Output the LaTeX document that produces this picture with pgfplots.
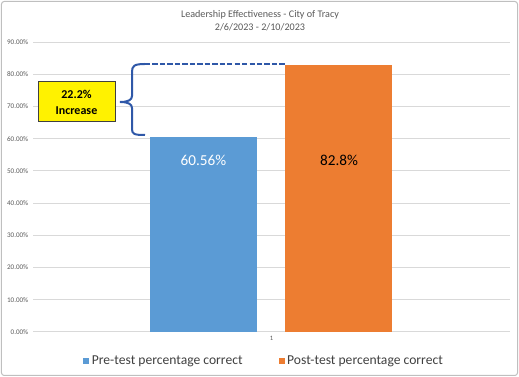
\documentclass[border=0pt]{standalone}
\usepackage{pgfplots}
\pgfplotsset{compat=1.18}
\usepackage{fontspec}
\setmainfont{Carlito}
\definecolor{barblue}{RGB}{91,155,213}
\definecolor{barorange}{RGB}{237,125,49}
\definecolor{bracecol}{RGB}{47,88,168}
\definecolor{txtgray}{RGB}{89,89,89}
\definecolor{legtxt}{RGB}{64,64,64}
\definecolor{gridgray}{RGB}{217,217,217}
\definecolor{framegray}{RGB}{191,191,191}
\begin{document}
\begin{tikzpicture}[x=0.75pt,y=0.75pt]
\useasboundingbox (0,0) rectangle (519,377);
\draw[framegray, line width=0.75pt, rounded corners=2pt] (1.5,1.5) rectangle (517.5,375.5);
\begin{axis}[
 at={(24.75pt,33.75pt)}, anchor=south west,
 scale only axis, width=357.75pt, height=217.5pt,
 xmin=0, xmax=2, ymin=0, ymax=90,
 ytick={0,10,...,90}, xtick={1}, xticklabels={1},
 axis line style={draw=none}, major tick length=0pt,
 ymajorgrids, grid style={gridgray, line width=0.75pt},
 yticklabel={\pgfmathprintnumber[fixed,fixed zerofill,precision=2]{\tick}\%},
 /pgf/number format/assume math mode=true,
 yticklabel style={font=\fontsize{5.3}{6}\selectfont, text=txtgray},
 xticklabel style={font=\fontsize{5}{6}\selectfont, text=txtgray},
 ybar, bar width=80.25pt,
 clip=false,
 legend style={at={(0.485,-0.1)}, anchor=center, draw=none, fill=none,
   font=\fontsize{10.2}{12}\selectfont, text=legtxt, legend columns=2,
   /tikz/every even column/.append style={column sep=25pt}},
 legend image code/.code={\path[#1] (0pt,-2.25pt) rectangle (4.5pt,2.25pt);},
]
\addplot[fill=barblue, draw=none, bar shift=0pt] coordinates {(0.7149,60.56)};
\addlegendentry{Pre-test percentage correct}
\addplot[fill=barorange, draw=none, bar shift=0pt] coordinates {(1.283,82.8)};
\addlegendentry{Post-test percentage correct}
\node[text=white, font=\fontsize{11.4}{13}\selectfont] at (axis cs:0.7149,53.4) {60.56\%};
\node[text=black, font=\fontsize{11.4}{13}\selectfont] at (axis cs:1.283,53.4) {82.8\%};
\end{axis}
\node[text=txtgray, font=\fontsize{7.6}{9}\selectfont] at (260,362) {Leadership Effectiveness - City of Tracy};
\node[text=txtgray, font=\fontsize{7.6}{9}\selectfont] at (260,350) {2/6/2023 - 2/10/2023};
\node[fill=yellow, draw=black!75, line width=0.75pt, minimum width=57.75pt, minimum height=30pt, align=center, font=\bfseries\fontsize{9}{12}\selectfont, inner sep=0pt] at (76.5,275) {22.2\%\\Increase};
\draw[bracecol, line width=1.5pt] (145,313) .. controls (134,313) and (132,311) .. (132,305) -- (132,281) .. controls (132,277) and (128,275) .. (120,275) .. controls (128,275) and (132,273) .. (132,269) -- (132,248) .. controls (132,243) and (134,242) .. (145,242);
\draw[bracecol, line width=1.6pt, dash pattern=on 4pt off 1.6pt] (145,313) -- (285,313);
\end{tikzpicture}
\end{document}
